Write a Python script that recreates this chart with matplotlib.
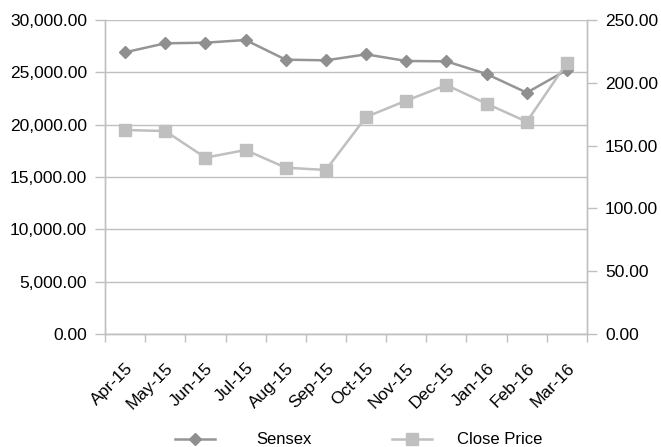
import numpy as np
import matplotlib
matplotlib.use("Agg")
import matplotlib.pyplot as plt
from matplotlib.ticker import FuncFormatter

months = ["Apr-15", "May-15", "Jun-15", "Jul-15", "Aug-15", "Sep-15",
          "Oct-15", "Nov-15", "Dec-15", "Jan-16", "Feb-16", "Mar-16"]
sensex = [26914, 27774, 27832, 28089, 26210, 26147,
          26720, 26083, 26051, 24841, 23057, 25223]
close_price = [162.4, 161.6, 140.4, 146.5, 132.4, 130.6,
               172.8, 185.8, 198.2, 183.4, 169.0, 215.8]

plt.rcParams['font.family'] = ['Liberation Sans', 'DejaVu Sans']
plt.rcParams['font.size'] = 12.5

grid_c = "#c0c0c0"
sensex_c = "#959595"
close_c = "#bfbfbf"

fig = plt.figure(figsize=(6.61, 4.47), dpi=100)
ax = fig.add_axes([105/661, 1 - 334/447, 482/661, 314/447])
ax2 = ax.twinx()

x = np.arange(len(months))
l1, = ax.plot(x, sensex, color=sensex_c, lw=1.8, marker='D', ms=6.5,
              mfc="#8f8f8f", mec="#8f8f8f", zorder=3)
l2, = ax2.plot(x, close_price, color=close_c, lw=1.8, marker='s', ms=8,
               mfc=close_c, mec=close_c, zorder=3)

ax.set_xlim(-0.5, len(months) - 0.5)
ax.set_ylim(0, 30000)
ax.set_yticks(np.arange(0, 30001, 5000))
ax.yaxis.set_major_formatter(FuncFormatter(lambda v, p: f"{v:,.2f}"))
ax2.set_ylim(0, 250)
ax2.set_yticks(np.arange(0, 251, 50))
ax2.yaxis.set_major_formatter(FuncFormatter(lambda v, p: f"{v:,.2f}"))

# category boundaries get the tick marks, centres get the labels
ax.set_xticks(np.arange(-0.5, len(months), 1.0))
ax.set_xticklabels([])
ax.set_xticks(x, minor=True)
ax.set_xticklabels(months, minor=True, rotation=45, ha='right',
                   rotation_mode='anchor')
ax.tick_params(axis='x', which='minor', length=0, pad=19)
ax.tick_params(axis='x', which='major', length=6, color=grid_c, width=1)
ax.tick_params(axis='y', length=7, color=grid_c, width=1, pad=6)
ax2.tick_params(axis='y', length=7, color=grid_c, width=1, pad=6)

ax.yaxis.grid(True, color=grid_c, lw=1)
ax.set_axisbelow(True)
for a in (ax, ax2):
    a.spines['top'].set_visible(False)
    for s in ('left', 'right', 'bottom'):
        a.spines[s].set_color(grid_c)
        a.spines[s].set_linewidth(1)

ly = 1 - 440/447
leg1 = fig.legend([l1], ["Sensex"], loc='center left',
                  bbox_to_anchor=(175/661, ly), frameon=False,
                  borderpad=0, borderaxespad=0,
                  handlelength=2.4, handletextpad=2.5, fontsize=12)
fig.legend([l2], ["Close Price"], loc='center left',
           bbox_to_anchor=(392/661, ly), frameon=False,
           borderpad=0, borderaxespad=0,
           handlelength=2.4, handletextpad=1.5, fontsize=12)

fig.savefig("out.png", dpi=100)
